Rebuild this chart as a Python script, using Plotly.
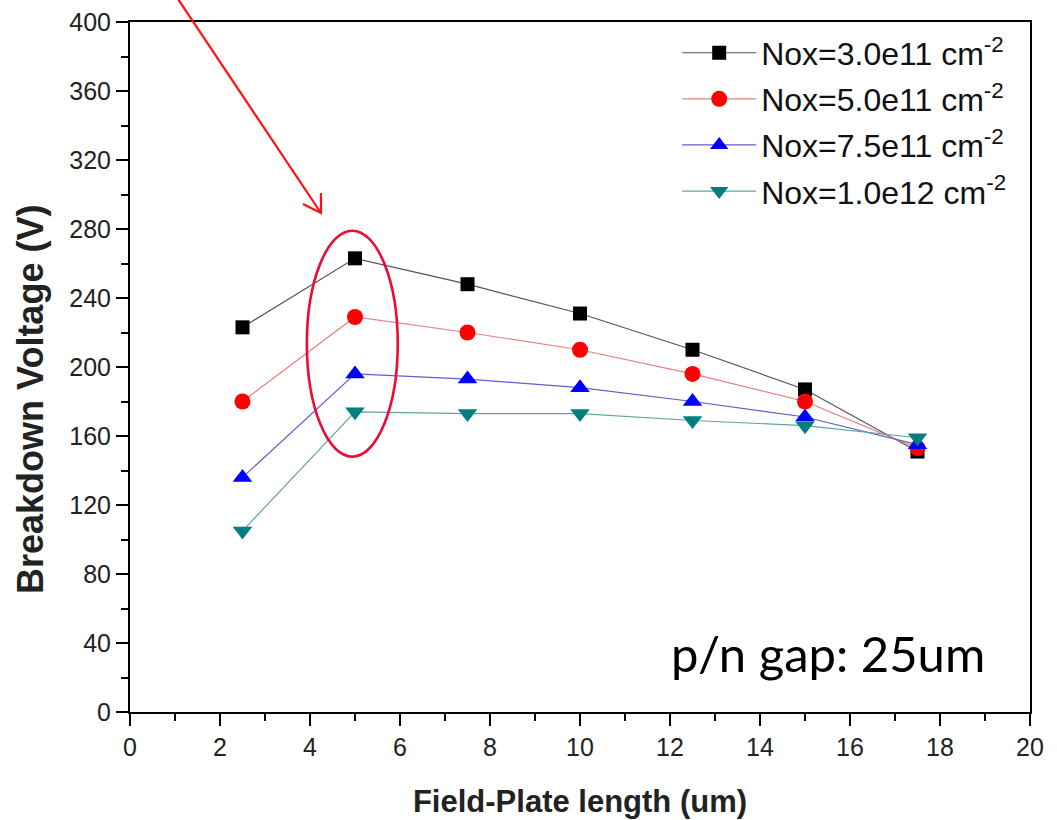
import plotly.graph_objects as go

# Field-plate length (um)
field_plate = [2.5, 5.0, 7.5, 10.0, 12.5, 15.0, 17.5]

# Breakdown voltage (V) per oxide charge density
bv_3e11 = [223, 263, 248, 231, 210, 187, 151]
bv_5e11 = [180, 229, 220, 210, 196, 180, 153]
bv_7e11 = [136, 196, 193, 188, 180, 171, 155]
bv_1e12 = [105, 174, 173, 173, 169, 166, 159]

series_names = [
    "Nox=3.0e11 cm<sup>-2</sup>",
    "Nox=5.0e11 cm<sup>-2</sup>",
    "Nox=7.5e11 cm<sup>-2</sup>",
    "Nox=1.0e12 cm<sup>-2</sup>",
]

x_ticks = list(range(0, 21, 2))
y_ticks = list(range(0, 401, 40))

FONT = "Liberation Sans, Arial, sans-serif"

styles = [
    dict(line="#555555", marker="#000000", symbol="square", size=14),
    dict(line="#e88080", marker="#ff0000", symbol="circle", size=16),
    dict(line="#6060c8", marker="#0000ff", symbol="triangle-up", size=17),
    dict(line="#5fa5a5", marker="#007f7f", symbol="triangle-down", size=17),
]

fig = go.Figure()
for i, (name, values, st) in enumerate(zip(series_names, [bv_3e11, bv_5e11, bv_7e11, bv_1e12], styles)):
    fig.add_trace(go.Scatter(
        x=field_plate, y=values, name=name, mode="lines+markers",
        legendgroup=f"g{i}",
        line=dict(color=st["line"], width=1.2),
        marker=dict(color=st["marker"], symbol=st["symbol"], size=st["size"],
                    line=dict(width=0)),
    ))

# plot-area geometry in pixels, used for the hand-drawn arrow
L, T, W, H = 130, 22, 900, 690


def px(x, y):
    return (x - L) / W, (T + H - y) / H


def path(points):
    parts = []
    for i, (x, y) in enumerate(points):
        u, v = px(x, y)
        parts.append(("M" if i == 0 else "L") + f"{u:.4f},{v:.4f}")
    return " ".join(parts)


# red arrow pointing at the peak
fig.add_shape(type="path", xref="paper", yref="paper",
              path=path([(176, -4), (321, 213)]),
              line=dict(color="#ff1010", width=2.2))
fig.add_shape(type="path", xref="paper", yref="paper",
              path=path([(303, 204), (321, 213), (321, 193)]),
              line=dict(color="#ff1010", width=2.2))

# ellipse around the 5 um points
fig.add_shape(type="circle", xref="x", yref="y",
              x0=3.93, x1=5.95, y0=148, y1=279,
              line=dict(color="#ee0a35", width=2.6))

fig.add_annotation(text="p/n gap: 25um", xref="x", yref="y",
                   x=15.5, y=34, xanchor="center", yanchor="middle",
                   showarrow=False,
                   font=dict(family="Lato, Open Sans, sans-serif", size=49, color="#000000"))

# vertical axis title, set slightly below the plot centre
tx, ty = px(31, 400)
fig.add_annotation(text="<b>Breakdown Voltage (V)</b>", xref="paper", yref="paper",
                   x=tx, y=ty, xanchor="center", yanchor="middle", textangle=-90,
                   showarrow=False,
                   font=dict(family=FONT, size=36, color="#222222"))

axis_common = dict(
    showgrid=False, zeroline=False, showline=True, linecolor="#000000",
    linewidth=2, mirror=True, ticks="outside", ticklen=12, tickwidth=2,
    tickcolor="#000000", tickfont=dict(family=FONT, size=25, color="#222222"),
    automargin=False,
)

fig.update_xaxes(
    range=[0, 20], tickvals=x_ticks, ticktext=[str(v) for v in x_ticks],
    minor=dict(ticks="outside", ticklen=7, tickwidth=2, tickcolor="#000000", dtick=1),
    title=dict(text="<b>Field-Plate length (um)</b>", standoff=30,
               font=dict(family=FONT, size=31, color="#222222")),
    **axis_common,
)
fig.update_yaxes(
    range=[0, 400], tickvals=y_ticks, ticktext=[str(v) for v in y_ticks],
    minor=dict(ticks="outside", ticklen=7, tickwidth=2, tickcolor="#000000", dtick=20),
    **axis_common,
)

fig.update_layout(
    width=1057, height=820,
    margin=dict(l=L, r=1057 - L - W, t=T, b=820 - T - H),
    paper_bgcolor="#ffffff", plot_bgcolor="#ffffff",
    legend=dict(x=0.608, y=0.995, xanchor="left", yanchor="top",
                bgcolor="rgba(0,0,0,0)", borderwidth=0,
                font=dict(family=FONT, size=32, color="#111111"),
                itemwidth=74, tracegroupgap=1.5, traceorder="grouped"),
    showlegend=True,
)

fig.write_html("out.html")
